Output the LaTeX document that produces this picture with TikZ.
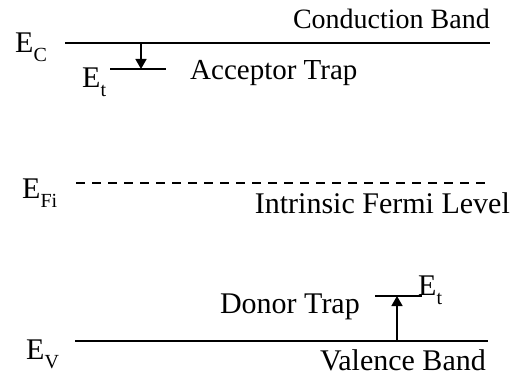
\documentclass[tikz,border=0pt]{standalone}
\usepackage{fontspec}
\setmainfont{Liberation Serif}
\usetikzlibrary{arrows.meta}
\newcommand{\lvsub}[1]{\raisebox{-9pt}{\fontsize{20}{20}\selectfont #1}}
\tikzset{
  band/.style={line width=1.8pt},
  fermi/.style={line width=1.8pt, dash pattern=on 9pt off 7pt},
  trans/.style={line width=1.6pt, -{Triangle[width=11pt,length=10pt]}},
  lbl/.style={anchor=base west, inner sep=0pt, font=\fontsize{30}{34}\selectfont},
  rlbl/.style={lbl, anchor=base east},
}
\begin{document}
\begin{tikzpicture}[x=1pt,y=-1pt]
\useasboundingbox (0,0) rectangle (516,377);
% conduction band
\coordinate (ecL) at (65,43);
\coordinate (ecR) at (490,43);
\coordinate (ecA) at (141,43);
\draw[band] (ecL) -- (ecR);
\node[lbl] (ec) at (15,53) {E\lvsub{C}};
\node[rlbl, font=\fontsize{28}{32}\selectfont] (cb) at (490,29) {Conduction Band};
% acceptor trap
\coordinate (atL) at (110,69);
\coordinate (atR) at (166,69);
\coordinate (atA) at (141,69);
\draw[band] (atL) -- (atR);
\draw[trans] (ecA) -- (atA);
\node[lbl] (et1) at (82,88) {E\lvsub{t}};
\node[lbl, font=\fontsize{29}{33}\selectfont] (at) at (190,80) {Acceptor Trap};
% intrinsic fermi level
\coordinate (efL) at (76,183);
\coordinate (efR) at (490,183);
\draw[fermi] (efL) -- (efR);
\node[lbl] (efi) at (22,198) {E\lvsub{Fi}};
\node[rlbl] (ifl) at (510,213) {Intrinsic Fermi Level};
% valence band
\coordinate (evL) at (75,341);
\coordinate (evR) at (488,341);
\coordinate (evA) at (397,341);
\draw[band] (evL) -- (evR);
\node[lbl] (ev) at (26,359) {E\lvsub{V}};
\node[rlbl] (vb) at (486,370) {Valence Band};
% donor trap
\coordinate (dtL) at (375,296);
\coordinate (dtR) at (422,296);
\coordinate (dtA) at (397,296);
\draw[band] (dtL) -- (dtR);
\draw[trans] (evA) -- (dtA);
\node[lbl] (et2) at (418,295) {E\lvsub{t}};
\node[rlbl] (dt) at (360,313) {Donor Trap};
\end{tikzpicture}
\end{document}
